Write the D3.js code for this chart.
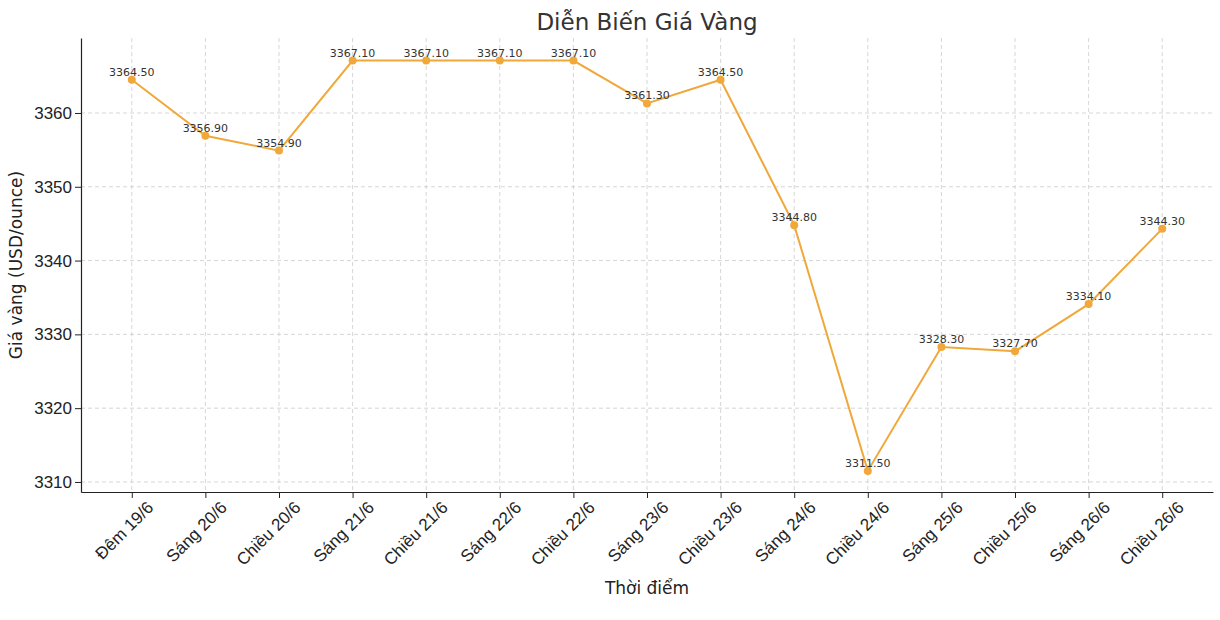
<!DOCTYPE html>
<html><head><meta charset="utf-8">
<script src="https://cdn.jsdelivr.net/npm/d3@7"></script>
<style>body{margin:0;background:#fff;font-family:"DejaVu Sans",sans-serif;}</style>
</head><body><div id="chart"></div>
<script>
const labels = ["Đêm 19/6","Sáng 20/6","Chiều 20/6","Sáng 21/6","Chiều 21/6","Sáng 22/6","Chiều 22/6","Sáng 23/6","Chiều 23/6","Sáng 24/6","Chiều 24/6","Sáng 25/6","Chiều 25/6","Sáng 26/6","Chiều 26/6"];
const prices = [3364.5,3356.9,3354.9,3367.1,3367.1,3367.1,3367.1,3361.3,3364.5,3344.8,3311.5,3328.3,3327.7,3334.1,3344.3];
const yTicks = [3310,3320,3330,3340,3350,3360];
const color = "#f0a83a";

const W = 1220, H = 620;
const plot = { left: 81, right: 1213, top: 38, bottom: 492 };
const svg = d3.select("#chart").append("svg").attr("width", W).attr("height", H);

const x = d3.scaleLinear().domain([-0.69, labels.length - 1 + 0.69]).range([plot.left, plot.right]);
const y = d3.scaleLinear().domain([3308.64, 3370.16]).range([plot.bottom, plot.top]);

// Grid
svg.append("g").selectAll("line").data(labels).enter().append("line")
  .attr("x1", (d, i) => x(i)).attr("x2", (d, i) => x(i))
  .attr("y1", plot.top).attr("y2", plot.bottom)
  .attr("stroke", "#cccccc").attr("stroke-dasharray", "4,3").attr("stroke-width", 0.8);
svg.append("g").selectAll("line").data(yTicks).enter().append("line")
  .attr("x1", plot.left).attr("x2", plot.right)
  .attr("y1", d => y(d)).attr("y2", d => y(d))
  .attr("stroke", "#cccccc").attr("stroke-dasharray", "4,3").attr("stroke-width", 0.8);

// Axes
const xAxis = svg.append("g").attr("transform", `translate(0,${plot.bottom})`)
  .call(d3.axisBottom(x).tickValues(d3.range(labels.length)).tickFormat(i => labels[i]).tickSizeOuter(0));
xAxis.selectAll("text").style("font-size", "17px").attr("fill", "#222")
  .attr("text-anchor", "end").attr("x", 4).attr("y", 12).attr("dy", "0.9em")
  .attr("transform", "rotate(-45)");
const yAxis = svg.append("g").attr("transform", `translate(${plot.left},0)`)
  .call(d3.axisLeft(y).tickValues(yTicks).tickFormat(d3.format("d")).tickSizeOuter(0));
yAxis.selectAll("text").style("font-size", "17px").attr("fill", "#222");
svg.selectAll(".domain").attr("stroke", "#222").attr("stroke-width", 1.2);
svg.selectAll(".tick line").attr("stroke", "#222");

// Line & points
const line = d3.line().x((d, i) => x(i)).y(d => y(d));
svg.append("path").datum(prices).attr("d", line)
  .attr("fill", "none").attr("stroke", color).attr("stroke-width", 2);
svg.append("g").selectAll("circle").data(prices).enter().append("circle")
  .attr("cx", (d, i) => x(i)).attr("cy", d => y(d)).attr("r", 4).attr("fill", color);
svg.append("g").selectAll("text").data(prices).enter().append("text")
  .attr("x", (d, i) => x(i)).attr("y", d => y(d) - 4)
  .attr("text-anchor", "middle").style("font-size", "11px").attr("fill", "#333")
  .text(d => d.toFixed(2));

// Titles
svg.append("text").attr("x", (plot.left + plot.right) / 2).attr("y", 30)
  .attr("text-anchor", "middle").style("font-size", "23px").attr("fill", "#333").text("Diễn Biến Giá Vàng");
svg.append("text").attr("x", (plot.left + plot.right) / 2).attr("y", 594)
  .attr("text-anchor", "middle").style("font-size", "17px").attr("fill", "#222").text("Thời điểm");
svg.append("text").attr("transform", `translate(22,${(plot.top + plot.bottom) / 2}) rotate(-90)`)
  .attr("text-anchor", "middle").style("font-size", "17px").attr("fill", "#222").text("Giá vàng (USD/ounce)");
</script></body></html>
